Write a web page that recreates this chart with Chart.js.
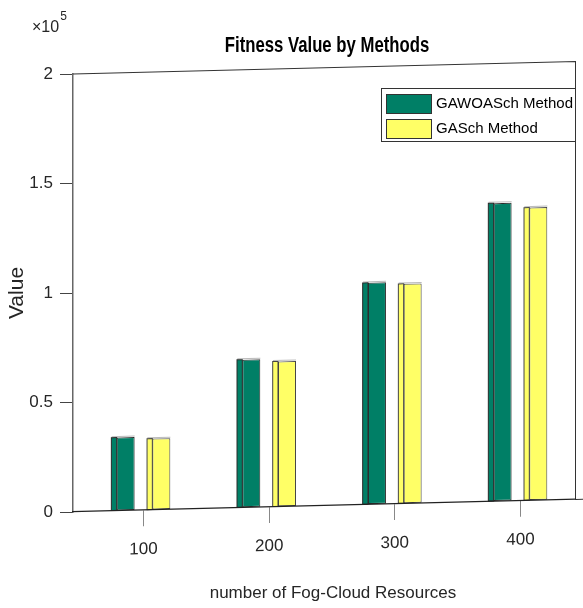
<!DOCTYPE html>
<html>
<head>
<meta charset="utf-8">
<script src="https://cdn.jsdelivr.net/npm/chart.js@4/dist/chart.umd.min.js"></script>
<style>
  body { margin: 0; background: #fff; }
  canvas { display: block; }
</style>
</head>
<body>
<canvas id="fitnessChart" width="583" height="608"></canvas>
<script>
const categories = [100, 200, 300, 400];
const gawoaschValues = [33500, 67600, 101300, 136200];
const gaschValues = [32600, 66400, 100400, 133800];
const yTickValues = [0, 50000, 100000, 150000, 200000];
const seriesNames = ["GAWOASch Method", "GASch Method"];
const chartTitle = "Fitness Value by Methods";
const xAxisTitle = "number of Fog-Cloud Resources";

const SANS = "'Liberation Sans', Arial, sans-serif";
const TILT = -0.025; // slope of the floor in the 3-D view

// tilt the plot like the matlab 3-D view, and draw the side faces of the bars
const tiltPlugin = {
  id: "tilt",
  beforeDatasetsDraw(chart) {
    const ctx = chart.ctx;
    const x0 = chart.chartArea.left;
    ctx.save();
    ctx.transform(1, TILT, 0, 1, 0, -TILT * x0);
  },
  afterDatasetsDraw(chart) {
    const ctx = chart.ctx;
    const area = chart.chartArea;

    chart.data.datasets.forEach(function (ds, i) {
      const meta = chart.getDatasetMeta(i);
      meta.data.forEach(function (bar) {
        const p = bar.getProps(["x", "y", "base", "width"], true);
        const left = p.x - p.width / 2;
        ctx.fillStyle = ds.backgroundColor;
        ctx.fillRect(left - 5.3, p.y, 5.3, p.base - p.y);
        ctx.strokeStyle = ds.borderColor;
        ctx.lineWidth = 1;
        ctx.strokeRect(left - 5.3, p.y, 5.3, p.base - p.y);
        ctx.strokeStyle = "rgba(120,120,120,0.5)";
        ctx.beginPath();
        ctx.moveTo(left - 5, p.y - 1);
        ctx.lineTo(left + p.width, p.y - 1);
        ctx.stroke();
      });
    });

    // box edges: top and right
    ctx.strokeStyle = "#333";
    ctx.lineWidth = 1;
    ctx.beginPath();
    ctx.moveTo(area.left, area.top);
    ctx.lineTo(area.right, area.top);
    ctx.lineTo(area.right, area.bottom);
    ctx.moveTo(area.right, area.bottom);
    ctx.lineTo(chart.width, area.bottom);
    ctx.stroke();
  },
  afterDraw(chart) {
    const ctx = chart.ctx;
    ctx.restore();

    ctx.save();
    // title, a bit condensed like the original
    ctx.save();
    ctx.translate(327, 46);
    ctx.scale(0.76, 1);
    ctx.fillStyle = "#000";
    ctx.font = "bold 22px " + SANS;
    ctx.textAlign = "center";
    ctx.textBaseline = "middle";
    ctx.fillText(chartTitle, 0, 0);
    ctx.restore();

    // x axis title
    ctx.fillStyle = "#262626";
    ctx.font = "17px " + SANS;
    ctx.textAlign = "center";
    ctx.textBaseline = "middle";
    ctx.fillText(xAxisTitle, 333, 593);

    // exponent label
    ctx.textAlign = "left";
    ctx.textBaseline = "alphabetic";
    ctx.font = "16px " + SANS;
    ctx.fillText("\u00d710", 32, 32);
    const w = ctx.measureText("\u00d710").width;
    ctx.font = "12px " + SANS;
    ctx.fillText("5", 32 + w + 1, 20);

    // legend
    const lx = 381, ly = 88, lw = 194, lh = 53;
    ctx.fillStyle = "#fff";
    ctx.fillRect(lx, ly, lw, lh);
    ctx.strokeStyle = "#333";
    ctx.lineWidth = 1;
    ctx.strokeRect(lx + 0.5, ly + 0.5, lw, lh);
    ctx.font = "15px " + SANS;
    ctx.textBaseline = "middle";
    chart.data.datasets.forEach(function (ds, i) {
      const sy = ly + 6 + i * 25;
      ctx.fillStyle = ds.backgroundColor;
      ctx.fillRect(lx + 5, sy, 45, 19);
      ctx.strokeStyle = "#333";
      ctx.strokeRect(lx + 5.5, sy + 0.5, 45, 19);
      ctx.fillStyle = "#000";
      ctx.fillText(ds.label, lx + 55, sy + 10);
    });
    ctx.restore();
  }
};

const chart = new Chart(document.getElementById("fitnessChart"), {
  type: "bar",
  data: {
    datasets: [
      {
        label: seriesNames[0],
        data: categories.map((c, i) => ({ x: c, y: gawoaschValues[i] })),
        backgroundColor: "#007F66",
        borderColor: "#2a2a2a",
        borderWidth: 1,
        borderSkipped: false
      },
      {
        label: seriesNames[1],
        data: categories.map((c, i) => ({ x: c, y: gaschValues[i] })),
        backgroundColor: "#FFFF66",
        borderColor: "#444",
        borderWidth: 1,
        borderSkipped: false
      }
    ]
  },
  options: {
    responsive: false,
    devicePixelRatio: 1,
    animation: false,
    categoryPercentage: 0.568,
    barPercentage: 0.504,
    layout: { padding: { top: 74, right: 7.5, bottom: 0, left: 0 } },
    plugins: {
      legend: { display: false },
      tooltip: { enabled: false },
      title: { display: false }
    },
    scales: {
      x: {
        type: "linear",
        offset: false,
        bounds: "data",
        min: 43.9,
        max: 443.8,
        afterBuildTicks: function (scale) {
          scale.ticks = categories.map(v => ({ value: v }));
        },
        afterFit: function (scale) {
          scale.height = 96;
        },
        grid: { z: 1, offset: false, drawOnChartArea: false, tickLength: 16, color: "#888" },
        border: { z: 1, color: "#222", width: 1.2 },
        ticks: {
          z: 1,
          autoSkip: false,
          maxRotation: 0,
          padding: 13,
          color: "#262626",
          font: { family: SANS, size: 17 },
          callback: v => String(v)
        }
      },
      y: {
        min: 0,
        max: 200000,
        afterBuildTicks: function (scale) {
          scale.ticks = yTickValues.map(v => ({ value: v }));
        },
        afterFit: function (scale) {
          scale.width = 73;
        },
        grid: { drawOnChartArea: false, tickLength: 13, color: "#444" },
        border: { color: "#666", width: 1.5 },
        ticks: {
          padding: 7,
          color: "#262626",
          font: { family: SANS, size: 17 },
          callback: v => String(v / 100000)
        },
        title: {
          display: true,
          text: "Value",
          color: "#262626",
          font: { family: SANS, size: 21 },
          padding: { top: 5, bottom: 0 }
        }
      }
    }
  },
  plugins: [tiltPlugin]
});
</script>
</body>
</html>
